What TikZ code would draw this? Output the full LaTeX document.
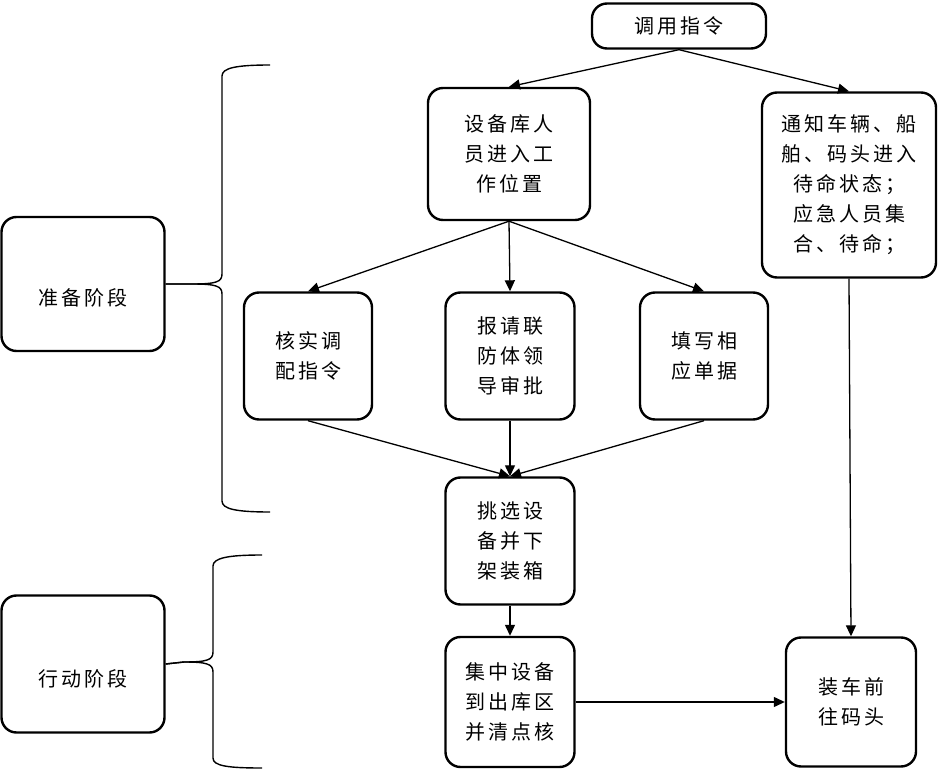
\documentclass[tikz,border=0pt]{standalone}
\usepackage{fontspec}
\newfontfamily\cjk[LetterSpace=15]{Noto Sans CJK SC}
\usepackage{tikz}
\usetikzlibrary{arrows.meta,calc,positioning}
\tikzset{
  stepbox/.style   = {draw=black, line width=2.4pt, rounded corners=15pt,
                      fill=white, align=center, inner sep=2pt,
                      font=\cjk\fontsize{20}{30}\selectfont},
  phase box/.style = {stepbox, minimum width=163pt, minimum height=134pt},
  flow/.style      = {-{Triangle[length=11pt,width=10pt]}, line width=1.3pt},
  bracket/.style   = {line width=1.4pt},
}
\newcommand{\lowtext}[1]{\raisebox{-22pt}[0pt][0pt]{#1}}
\begin{document}
\begin{tikzpicture}[x=1pt,y=-1pt]
  \useasboundingbox (0,0) rectangle (938,770);
  % main chain
  \node[stepbox, minimum width=174pt, minimum height=45pt] (cmd) at (679,26) {调用指令};
  \node[stepbox, minimum width=162pt, minimum height=132pt] (dev) at (509,154)
    {设备库人\\员进入工\\作位置};
  \node[stepbox, minimum width=174pt, minimum height=185pt] (notice) at (849,185)
    {通知车辆、船\\舶、码头进入\\待命状态；\\应急人员集\\合、待命；};
  \node[stepbox, minimum width=128pt, minimum height=127pt] (check) at (308,356)
    {核实调\\配指令};
  \node[stepbox, minimum width=129pt, minimum height=127pt] (apply) at (510,356)
    {报请联\\防体领\\导审批};
  \node[stepbox, minimum width=128pt, minimum height=127pt] (fill) at (704,356)
    {填写相\\应单据};
  \node[stepbox, minimum width=129pt, minimum height=127pt] (pick) at (510,541)
    {挑选设\\备并下\\架装箱};
  \node[stepbox, minimum width=129pt, minimum height=130pt] (gather) at (510,702)
    {集中设备\\到出库区\\并清点核};
  \node[stepbox, minimum width=130pt, minimum height=129pt] (truck) at (851,702)
    {装车前\\往码头};
  % phases
  \node[phase box] (prep) at (83,284) {\lowtext{准备阶段}};
  \node[phase box, minimum height=137pt] (act) at (83,664) {\lowtext{行动阶段}};

  \draw[flow] (cmd.south) -- (dev.north);
  \draw[flow] (cmd.south) -- (notice.north);
  \draw[flow] (dev.south) -- (check.north);
  \draw[flow] (dev.south) -- (apply.north);
  \draw[flow] (dev.south) -- (fill.north);
  \draw[flow] (check.south) -- (pick.north);
  \draw[flow] (apply.south) -- (pick.north);
  \draw[flow] (fill.south) -- (pick.north);
  \draw[flow] (pick.south) -- (gather.north);
  \draw[flow] (notice.south) -- (truck.north);
  \draw[flow] (gather.east) -- (truck.west);

  % braces
  \draw[bracket] (prep.east) -- (192,284) .. controls (216,284) and (222,282) .. (222,274)
    -- (222,76) .. controls (222,68) and (236,65) .. (270,65);
  \draw[bracket] (prep.east) -- (192,284) .. controls (216,284) and (222,286) .. (222,294)
    -- (222,501) .. controls (222,509) and (236,512) .. (270,512);
  \draw[bracket] (act.east) -- (184,662) .. controls (207,662) and (213,660) .. (213,652)
    -- (213,566) .. controls (213,558) and (228,555) .. (262,555);
  \draw[bracket] (act.east) -- (184,662) .. controls (207,662) and (213,664) .. (213,672)
    -- (213,758) .. controls (213,766) and (228,768) .. (262,768);
\end{tikzpicture}
\end{document}
